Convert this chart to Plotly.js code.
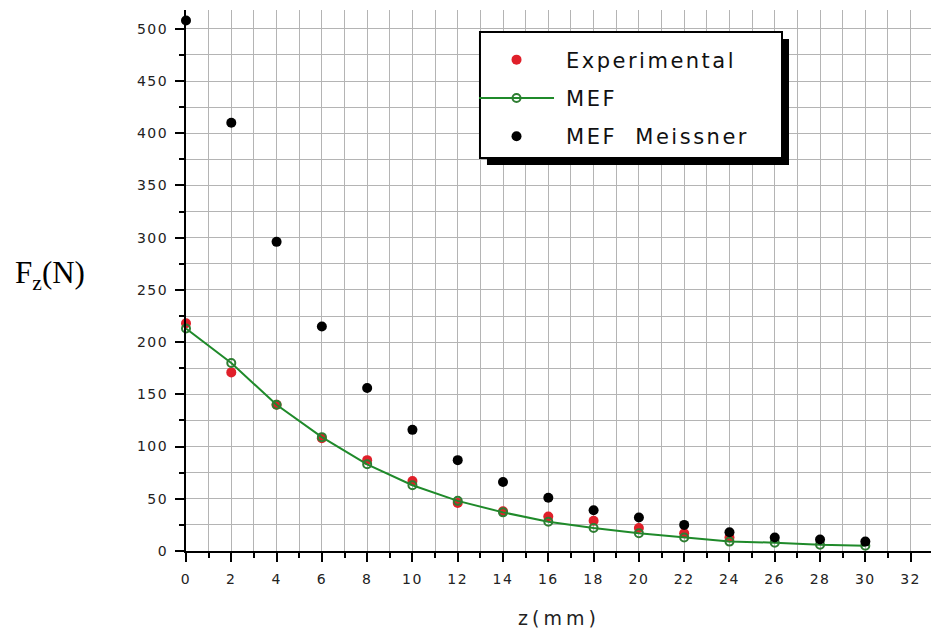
<!DOCTYPE html>
<html>
<head>
<meta charset="utf-8">
<script src="https://cdn.plot.ly/plotly-3.0.1.min.js"></script>
<style>
html, body { margin: 0; padding: 0; background: #fff; }
#chart { width: 931px; height: 634px; }
.legendtext { letter-spacing: 2.5px; transform: translateX(7px); }
.xtick text, .ytick text { letter-spacing: 1.5px; }
g.annotation[data-index="1"] text { letter-spacing: 4px; }
</style>
</head>
<body>
<div id="chart"></div>
<script>
// Data
const zExp = [0, 2, 4, 6, 8, 10, 12, 14, 16, 18, 20, 22, 24];
const experimental = [218, 171, 140, 108, 87, 67, 46, 38, 33, 29, 22, 17, 13];

const zMef = [0, 2, 4, 6, 8, 10, 12, 14, 16, 18, 20, 22, 24, 26, 28, 30];
const mef = [213, 180, 140, 109, 83, 63, 48, 37, 28, 22, 17, 13, 9, 8, 6, 5];

const zMeissner = [0, 2, 4, 6, 8, 10, 12, 14, 16, 18, 20, 22, 24, 26, 28, 30];
const meissner = [508, 410, 296, 215, 156, 116, 87, 66, 51, 39, 32, 25, 18, 13, 11, 9];

const seriesNames = ["Experimental", "MEF", "MEF  Meissner"];

const gridCol = "#b4b4b4";
const tickFont = { family: "DejaVu Sans", size: 14, color: "#222" };

const traces = [
  {
    x: zExp, y: experimental, name: seriesNames[0], type: "scatter", mode: "markers",
    legendgroup: "a", cliponaxis: false,
    marker: { color: "#e0202a", size: 10 }
  },
  {
    x: zMef, y: mef, name: seriesNames[1], type: "scatter", mode: "lines+markers",
    legendgroup: "b", cliponaxis: false,
    line: { color: "#1f8a2a", width: 2 },
    marker: { symbol: "circle-open", color: "#2e7d32", size: 8, line: { width: 2 } }
  },
  {
    x: zMeissner, y: meissner, name: seriesNames[2], type: "scatter", mode: "markers",
    legendgroup: "c", cliponaxis: false,
    marker: { color: "#000", size: 10 }
  }
];

const layout = {
  width: 931, height: 634,
  margin: { l: 186, r: 0, t: 10, b: 83 },
  paper_bgcolor: "#fff", plot_bgcolor: "#fff",
  showlegend: true,
  legend: {
    x: 0.3866, y: 0.9455, xanchor: "left", yanchor: "top",
    bgcolor: "rgba(0,0,0,0)", borderwidth: 0,
    font: { family: "DejaVu Sans", size: 21, color: "#111" },
    tracegroupgap: 8, itemwidth: 75
  },
  xaxis: {
    range: [0, 32.9], tick0: 0, dtick: 2,
    showgrid: true, gridcolor: gridCol, gridwidth: 1,
    zeroline: false,
    showline: true, linecolor: "#000", linewidth: 2,
    ticks: "outside", ticklen: 9, tickwidth: 2, tickcolor: "#000",
    tickfont: tickFont, ticklabelstandoff: 5,
    minor: { dtick: 1, showgrid: true, gridcolor: gridCol, gridwidth: 1, ticks: "outside", ticklen: 5, tickwidth: 2, tickcolor: "#000" }
  },
  yaxis: {
    range: [0, 518], tick0: 0, dtick: 50,
    showgrid: true, gridcolor: gridCol, gridwidth: 1,
    zeroline: false,
    showline: true, linecolor: "#000", linewidth: 2,
    ticks: "outside", ticklen: 9, tickwidth: 2, tickcolor: "#000",
    tickfont: tickFont, ticklabelstandoff: 4,
    minor: { dtick: 25, showgrid: true, gridcolor: gridCol, gridwidth: 1, ticks: "outside", ticklen: 5, tickwidth: 2, tickcolor: "#000" }
  },
  shapes: [
    { type: "rect", xref: "paper", yref: "paper", x0: 0.404, x1: 0.8094, y0: 0.7135, y1: 0.9464,
      fillcolor: "#000", line: { width: 0 }, layer: "above" },
    { type: "rect", xref: "paper", yref: "paper", x0: 0.3946, x1: 0.800, y0: 0.7264, y1: 0.9593,
      fillcolor: "#fff", line: { color: "#000", width: 2 }, layer: "above" }
  ],
  annotations: [
    { xref: "paper", yref: "paper", x: -0.232, y: 0.51, xanchor: "left", yanchor: "middle",
      text: "F<sub>z</sub>(N)", showarrow: false,
      font: { family: "Liberation Serif", size: 31, color: "#000" } },
    { xref: "paper", yref: "paper", x: 0.5, y: -0.1238, xanchor: "center", yanchor: "middle",
      text: "z(mm)", showarrow: false,
      font: { family: "DejaVu Sans", size: 19, color: "#222" } }
  ]
};

Plotly.newPlot("chart", traces, layout, { displayModeBar: false, staticPlot: true });
</script>
</body>
</html>
